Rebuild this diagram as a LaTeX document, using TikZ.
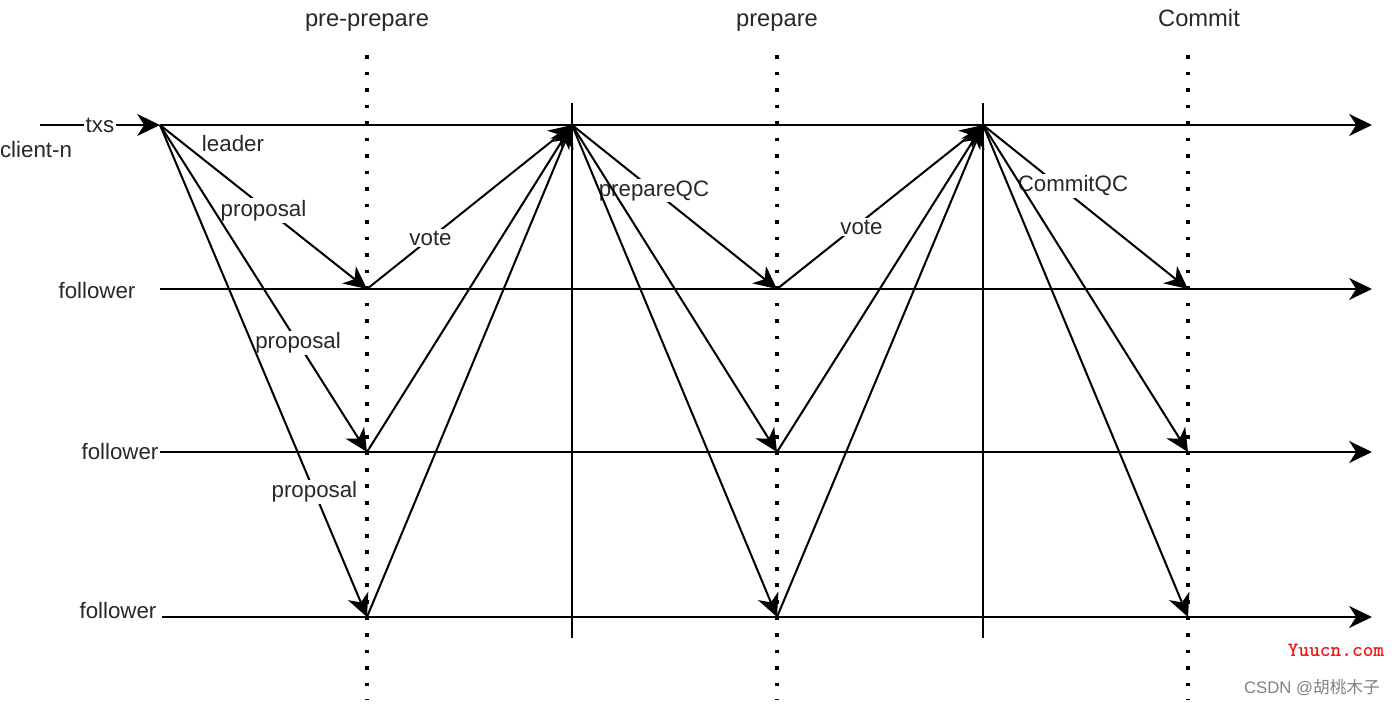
\documentclass[tikz,border=0pt]{standalone}
\usepackage{fontspec}
\setmainfont{Liberation Sans}
\newfontfamily\cjkfont{Noto Sans CJK SC}
\usetikzlibrary{arrows.meta}
\definecolor{txtc}{RGB}{40,40,40}
\definecolor{wmgray}{RGB}{130,130,130}
\definecolor{wmred}{RGB}{240,20,20}
\begin{document}
\begin{tikzpicture}[x=0.02cm,y=-0.02cm,
  line/.style={line width=1.15pt, draw=black},
  arr/.style={line, -{Stealth[length=13pt,width=12.5pt,inset=4pt]}},
  lbl/.style={fill=white, inner sep=1pt, text=txtc, font=\fontsize{12.7}{14}\selectfont},
  txt/.style={inner sep=1pt, text=txtc, font=\fontsize{12.7}{14}\selectfont},
  ttl/.style={inner sep=0pt, anchor=base, text=txtc, font=\fontsize{13.5}{15}\selectfont},
  dotline/.style={line width=2.1pt, dash pattern=on 2.1pt off 7.3pt, draw=black},
]
\useasboundingbox[fill=white] (0,0) rectangle (1397,705);

% key points
\coordinate (S) at (40,125);
\coordinate (L0) at (160,125);
\coordinate (Lend) at (1372,125);
\coordinate (R1s) at (160,289);
\coordinate (R1e) at (1372,289);
\coordinate (R2s) at (160,452);
\coordinate (R2e) at (1372,452);
\coordinate (R3s) at (162,617);
\coordinate (R3e) at (1372,617);
\coordinate (A1) at (367,289);
\coordinate (A2) at (367,452);
\coordinate (A3) at (367,617);
\coordinate (B) at (572,125);
\coordinate (C1) at (777,289);
\coordinate (C2) at (777,452);
\coordinate (C3) at (777,617);
\coordinate (D) at (983,125);
\coordinate (E1) at (1188,289);
\coordinate (E2) at (1188,452);
\coordinate (E3) at (1188,617);

% dotted phase lines
\coordinate (P1t) at (367,55);  \coordinate (P1b) at (367,700);
\coordinate (P2t) at (777,55);  \coordinate (P2b) at (777,700);
\coordinate (P3t) at (1188,55); \coordinate (P3b) at (1188,700);
\draw[dotline] (P1t) -- (P1b);
\draw[dotline] (P2t) -- (P2b);
\draw[dotline] (P3t) -- (P3b);

% solid separators
\coordinate (V1t) at (572,103); \coordinate (V1b) at (572,638);
\coordinate (V2t) at (983,103); \coordinate (V2b) at (983,638);
\draw[line] (V1t) -- (V1b);
\draw[line] (V2t) -- (V2b);

% titles
\node[ttl] (t1) at (367,27) {pre-prepare};
\node[ttl] (t2) at (777,27) {prepare};
\node[ttl] (t3) at (1199,27) {Commit};

% time lines
\draw[arr] (S) -- node[lbl, pos=0.5] (txs) {txs} (L0);
\draw[arr] (L0) -- (Lend);
\draw[arr] (R1s) -- (R1e);
\draw[arr] (R2s) -- (R2e);
\draw[arr] (R3s) -- (R3e);

% left labels
\node[txt] (client) at (36,150) {client-n};
\node[txt] (leader) at (233,144) {leader};
\node[txt] (f1) at (97,291) {follower};
\node[txt] (f2) at (120,452) {follower};
\node[txt] (f3) at (118,611) {follower};

% pre-prepare: proposals
\draw[arr] (L0) -- node[lbl, pos=0.5, yshift=-2pt] (pr1) {proposal} (A1);
\draw[arr] (L0) -- node[lbl, pos=0.667] (pr2) {proposal} (A2);
\draw[arr] (L0) -- node[lbl, pos=0.746] (pr3) {proposal} (A3);

% votes
\draw[arr] (A1) -- node[lbl, pos=0.31] (v1) {vote} (B);
\draw[arr] (A2) -- (B);
\draw[arr] (A3) -- (B);

% prepare: prepareQC
\draw[arr] (B) -- node[lbl, pos=0.4] (pqc) {prepareQC} (C1);
\draw[arr] (B) -- (C2);
\draw[arr] (B) -- (C3);

% votes
\draw[arr] (C1) -- node[lbl, pos=0.41, yshift=-3pt] (v2) {vote} (D);
\draw[arr] (C2) -- (D);
\draw[arr] (C3) -- (D);

% commit: CommitQC
\draw[arr] (D) -- (E1);
\node[lbl] (cqc) at (1073,186) {CommitQC};
\draw[arr] (D) -- (E2);
\draw[arr] (D) -- (E3);

% watermark
\node[inner sep=0pt, text=wmred, font=\ttfamily\bfseries\fontsize{11.6}{13}\selectfont] (wm1) at (1336,650) {Yuucn.com};
\node[inner sep=0pt, text=wmgray, font=\fontsize{9.5}{11}\selectfont] (wm2) at (1312,688) {CSDN @{\cjkfont 胡桃木子}};
\end{tikzpicture}
\end{document}
